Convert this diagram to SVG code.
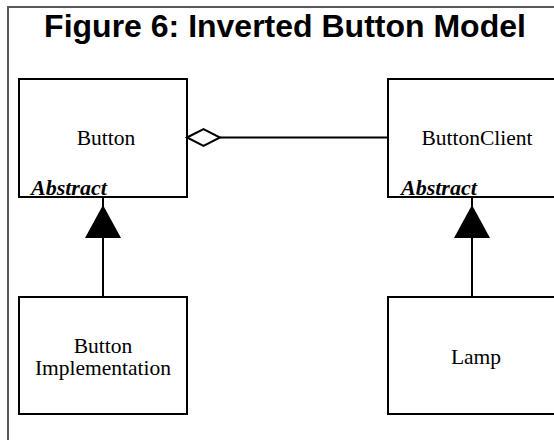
<svg xmlns="http://www.w3.org/2000/svg" width="554" height="440" viewBox="0 0 554 440">
  <style>
    .frame { fill: none; stroke: #5a5a5a; stroke-width: 2; }
    .box { fill: #fff; stroke: #000; stroke-width: 2; }
    .line { fill: none; stroke: #000; stroke-width: 2; }
    .title { font-family: "Liberation Sans", Arial, sans-serif; font-weight: bold; font-size: 32px; fill: #000; }
    .label { font-family: "Liberation Serif", "Times New Roman", serif; font-size: 21.5px; fill: #000; text-anchor: middle; }
    .abs { font-family: "Liberation Serif", "Times New Roman", serif; font-size: 22px; font-weight: bold; font-style: italic; fill: #000; }
  </style>
  <rect width="554" height="440" fill="#fff"/>
  <rect class="frame" x="8" y="7" width="560" height="450"/>
  <text class="title" x="285" y="37" text-anchor="middle">Figure 6: Inverted Button Model</text>

  <g id="button">
    <rect class="box" x="19" y="79" width="168" height="118"/>
    <text class="label" x="106" y="145">Button</text>
    <text class="abs" x="31" y="195">Abstract</text>
  </g>
  <g id="buttonclient">
    <rect class="box" x="388" y="79" width="168" height="118"/>
    <text class="label" x="477" y="145">ButtonClient</text>
    <text class="abs" x="401" y="195">Abstract</text>
  </g>
  <g id="buttonimpl">
    <rect class="box" x="19" y="297" width="168" height="117"/>
    <text class="label" x="103" y="353">Button</text>
    <text class="label" x="103" y="375">Implementation</text>
  </g>
  <g id="lamp">
    <rect class="box" x="388" y="297" width="168" height="117"/>
    <text class="label" x="476" y="364">Lamp</text>
  </g>

  <g id="connectors">
    <line class="line" x1="220" y1="137.5" x2="388" y2="137.5"/>
    <polygon points="187,137.5 203.5,129 220,137.5 203.5,146" fill="#fff" stroke="#000" stroke-width="2"/>
    <line class="line" x1="103" y1="197" x2="103" y2="297"/>
    <polygon points="103,205 85,238 121,238" fill="#000"/>
    <line class="line" x1="472" y1="197" x2="472" y2="297"/>
    <polygon points="472,205 454,238 490,238" fill="#000"/>
  </g>
</svg>
